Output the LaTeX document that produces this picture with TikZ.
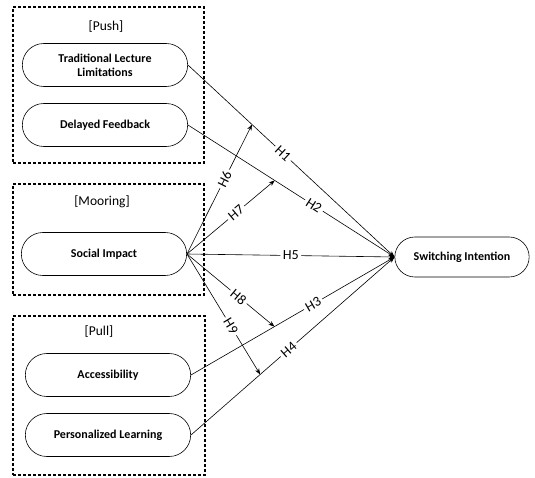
\documentclass[tikz,border=0pt]{standalone}
\usepackage{fontspec}
\setmainfont{Carlito}
\usetikzlibrary{shapes.misc,arrows.meta}

\begin{document}
\begin{tikzpicture}[x=1pt, y=-1pt, node distance=60pt, >={Stealth[length=6pt,width=4.5pt]}, line width=0.6pt,
		main node/.style={rounded rectangle,draw,minimum width=172pt,minimum height=43pt,
			align=center,font=\fontsize{12}{14}\selectfont\bfseries},
		group box/.style={draw,line width=1.1pt,dash pattern=on 3pt off 2pt},
		group title/.style={font=\fontsize{13.5}{15}\selectfont},
		hyp/.style={fill=white,sloped,inner sep=2.5pt,font=\fontsize{14}{15}\selectfont}]
		\useasboundingbox (0,0) rectangle (535,478);

		% groups
		\node[group box,minimum width=191pt,minimum height=156pt] (push) at (108.5,85) {};
		\node[group box,minimum width=191pt,minimum height=111pt] (mooring) at (108.5,239.5) {};
		\node[group box,minimum width=192pt,minimum height=159pt] (pull) at (109,395.5) {};
		\node[group title] (pushT) at (106,27) {[Push]};
		\node[group title] (mooringT) at (102,202) {[Mooring]};
		\node[group title] (pullT) at (99,332) {[Pull]};

		% constructs
		\node[main node] (trad) at (105,65) {Traditional Lecture\\Limitations};
		\node[main node] (delay) [below of=trad] {Delayed Feedback};
		\node[main node] (social) at (104,254) {Social Impact};
		\node[main node] (access) at (108,375) {Accessibility};
		\node[main node] (pers) [below of=access] {Personalized Learning};
		\node[main node,minimum width=141pt,minimum height=40pt] (swi) at (462,257) {Switching Intention};

		% direct paths
		\draw[->] (trad.east) -- node[hyp,pos=.46] {H1} coordinate[pos=.31] (h6end) (swi.west);
		\draw[->] (delay.east) -- node[hyp,pos=.61] {H2} coordinate[pos=.42] (h7end) (swi.west);
		\draw[->] (social.east) -- node[hyp,pos=.5] {H5} (swi.west);
		\draw[->] (access.east) -- node[hyp,pos=.6] {H3} coordinate[pos=.41] (h8end) (swi.west);
		\draw[->] (pers.east) -- node[hyp,pos=.48] {H4} coordinate[pos=.34] (h9end) (swi.west);

		% moderating paths
		\draw[->] (social.east) -- node[hyp,pos=.58] {H6} (h6end);
		\draw[->] (social.east) -- node[hyp,pos=.56] {H7} (h7end);
		\draw[->] (social.east) -- node[hyp,pos=.59] {H8} (h8end);
		\draw[->] (social.east) -- node[hyp,pos=.6] {H9} (h9end);
\end{tikzpicture}
\end{document}
